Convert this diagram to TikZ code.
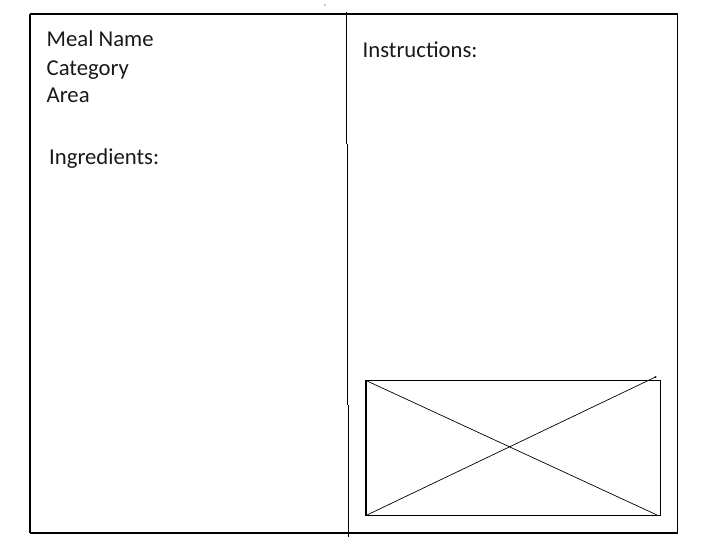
\documentclass[tikz,border=0pt]{standalone}
\usepackage{fontspec}
\setmainfont{Carlito}
\begin{document}
\begin{tikzpicture}[x=1pt,y=-1pt,
  lbl/.style={anchor=base west,inner sep=0pt,text=black!90,font=\fontsize{22.7}{28}\selectfont},
  frame/.style={line width=1pt,black}]
\useasboundingbox (0,0) rectangle (701,551);
% outer frame
\draw[line width=2pt] (29.5,14) -- (678,14);
\draw[line width=2pt] (29.5,533.3) -- (678,533.3);
\draw[line width=1.2pt] (30,14) -- (30,533.3);
\draw[line width=1.5pt] (677.3,14) -- (677.3,533.3);
% divider
\draw[frame] (346.4,12) -- (346.4,143.7);
\draw[frame] (347.4,143.7) -- (347.4,405);
\draw[frame] (348,405) -- (348,537);
% small dot
\fill (325,5) circle (0.6);
% image placeholder
\draw[line width=0.8pt] (365.5,380) rectangle (660.5,515.5);
\draw[line width=1.6pt] (365.8,380) -- (365.8,515.5);
\draw[line width=0.7pt] (366,380.5) -- (657,515);
\draw[line width=0.7pt] (367,515) -- (655.5,377);
\fill (655.5,377) circle (1);
% texts
\node[lbl] (meal) at (46.5,47) {Meal Name};
\node[lbl] (cat) at (46.5,75) {Category};
\node[lbl] (area) at (46.5,102.5) {Area};
\node[lbl] (ingr) at (49,164) {Ingredients:};
\node[lbl] (instr) at (362.5,57.3) {Instructions:};
\end{tikzpicture}
\end{document}
